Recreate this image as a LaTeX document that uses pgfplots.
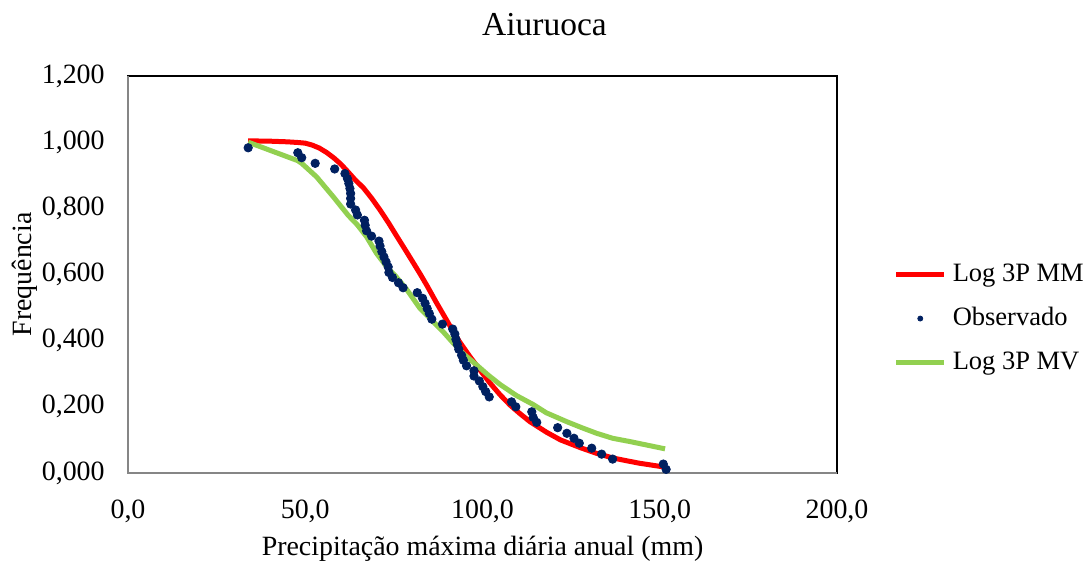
\documentclass[border=0pt]{standalone}
\usepackage{fontspec}
\setmainfont{Liberation Serif}
\usepackage{pgfplots}
\pgfplotsset{compat=1.18}
\definecolor{mmred}{RGB}{255,0,0}
\definecolor{mvgreen}{RGB}{146,208,80}
\definecolor{obsblue}{RGB}{0,32,96}
\definecolor{spine}{RGB}{134,134,134}

\begin{document}
\begin{tikzpicture}
\begin{axis}[
  at={(0,0)}, anchor=south west,
  scale only axis, width=354.5bp, height=198.5bp,
  set layers, clip=false,
  xmin=0, xmax=200, ymin=0, ymax=1.2,
  xtick={0,50,100,150,200}, ytick={0,0.2,0.4,0.6,0.8,1.0,1.2},
  major tick length=0pt,
  axis line style={black, line width=1bp},
  tick label style={font=\fontsize{14}{16}\selectfont},
  /pgf/number format/assume math mode=true,
  x tick label style={/pgf/number format/.cd, fixed, fixed zerofill, precision=1, use comma, /tikz/.cd,
    anchor=base, yshift=-22.5bp},
  y tick label style={/pgf/number format/.cd, fixed, fixed zerofill, precision=3, use comma, /tikz/.cd,
    anchor=east, inner sep=0pt, xshift=-11.5bp},
  label style={font=\fontsize{14}{16}\selectfont},
  xlabel={Precipitação máxima diária anual (mm)},
  xlabel style={at={(axis description cs:0.5,-0.209)}, anchor=base},
  ylabel={Frequência},
  ylabel style={at={(axis description cs:-0.1453,0.5)}, anchor=center},
  legend style={draw=none, fill=none, at={(1.0795,0.389)}, anchor=west,
    font=\fontsize{13.3}{16}\selectfont, row sep=9.5bp, inner sep=0pt,
    nodes={inner xsep=3bp, inner ysep=0pt, text height=9.5bp, text depth=3bp}},
  legend cell align=left,
  legend image code/.code={\draw[#1] (0bp,0bp) -- (24bp,0bp);},
]
\addplot[mmred, line width=2.5bp] coordinates {
(33.9,1.004)(40,1.003)(45,1.001)(47.9,0.999)(50,0.997)(52,0.991)(54,0.982)
(56,0.969)(58,0.953)(60,0.934)(62,0.911)(64,0.887)(66.4,0.862)(68.7,0.831)
(71.1,0.795)(73.5,0.756)(75.8,0.716)(78.6,0.668)(80.5,0.635)(82.5,0.600)
(84.3,0.567)(87.0,0.515)(90.8,0.445)(93.5,0.397)(96.5,0.351)(99.3,0.311)
(102.1,0.272)(105,0.236)(107.8,0.205)(110.5,0.180)(113.4,0.155)(118.1,0.123)
(122,0.100)(127.5,0.077)(132,0.060)(136.9,0.045)(144,0.030)(151.3,0.018)};
\addlegendentry{Log 3P MM}

\addplot[only marks, mark=*, mark size=2.1bp, obsblue, on layer=axis foreground,
  legend image code/.code={\fill[obsblue] (12bp,0bp) circle (1.25bp);}] coordinates {
(33.9,0.983)(47.9,0.968)(49.0,0.953)(52.8,0.936)(58.3,0.919)(61.2,0.905)
(61.9,0.890)(62.3,0.875)(62.6,0.860)(62.8,0.845)(62.8,0.830)(62.8,0.813)
(64.2,0.795)(64.7,0.780)(66.7,0.764)(66.9,0.749)(67.3,0.732)(68.7,0.716)
(70.8,0.701)(71.1,0.686)(71.6,0.669)(72.2,0.653)(72.8,0.638)(73.4,0.623)
(73.6,0.606)(74.6,0.591)(76.3,0.575)(77.6,0.560)(81.6,0.545)(83.1,0.528)
(83.8,0.513)(84.4,0.497)(85.0,0.482)(85.7,0.465)(88.7,0.450)(91.6,0.435)
(92.2,0.420)(92.5,0.404)(92.9,0.389)(93.3,0.374)(94.1,0.356)(94.6,0.341)
(95.5,0.324)(97.6,0.309)(97.6,0.293)(99.1,0.278)(100.1,0.261)(100.9,0.246)
(101.9,0.230)(108.2,0.215)(109.4,0.200)(113.9,0.185)(114.3,0.168)(115.3,0.153)
(121.2,0.137)(123.8,0.120)(125.8,0.105)(127.3,0.090)(130.8,0.075)(133.6,0.057)
(136.7,0.042)(151.0,0.027)(151.8,0.011)};
\addlegendentry{Observado}

\addplot[mvgreen, line width=2.5bp] coordinates {
(33.9,1.000)(47.9,0.944)(49.0,0.936)(53.2,0.895)(57.9,0.835)(62.1,0.779)
(64.7,0.750)(67.3,0.714)(70.1,0.664)(73.0,0.623)(75.5,0.595)(78.6,0.555)
(82.4,0.497)(85.2,0.467)(88.9,0.427)(91.8,0.392)(95.0,0.357)(98.4,0.326)
(101.6,0.296)(104.9,0.268)(109.6,0.234)(114.3,0.207)(118.0,0.182)(123.8,0.155)
(128.0,0.137)(132.2,0.120)(136.7,0.105)(141.6,0.095)(151.5,0.073)};
\addlegendentry{Log 3P MV}

\draw[spine, line width=1.3bp] (rel axis cs:0,1) -- (rel axis cs:0,0) -- (rel axis cs:1,0);
\end{axis}
\node[anchor=base, font=\fontsize{16.8}{20}\selectfont] at (208.25bp,218.5bp) {Aiuruoca};
\pgfresetboundingbox
\path[use as bounding box] (-64bp,-44bp) rectangle (480.5bp,236.5bp);
\end{tikzpicture}
\end{document}
